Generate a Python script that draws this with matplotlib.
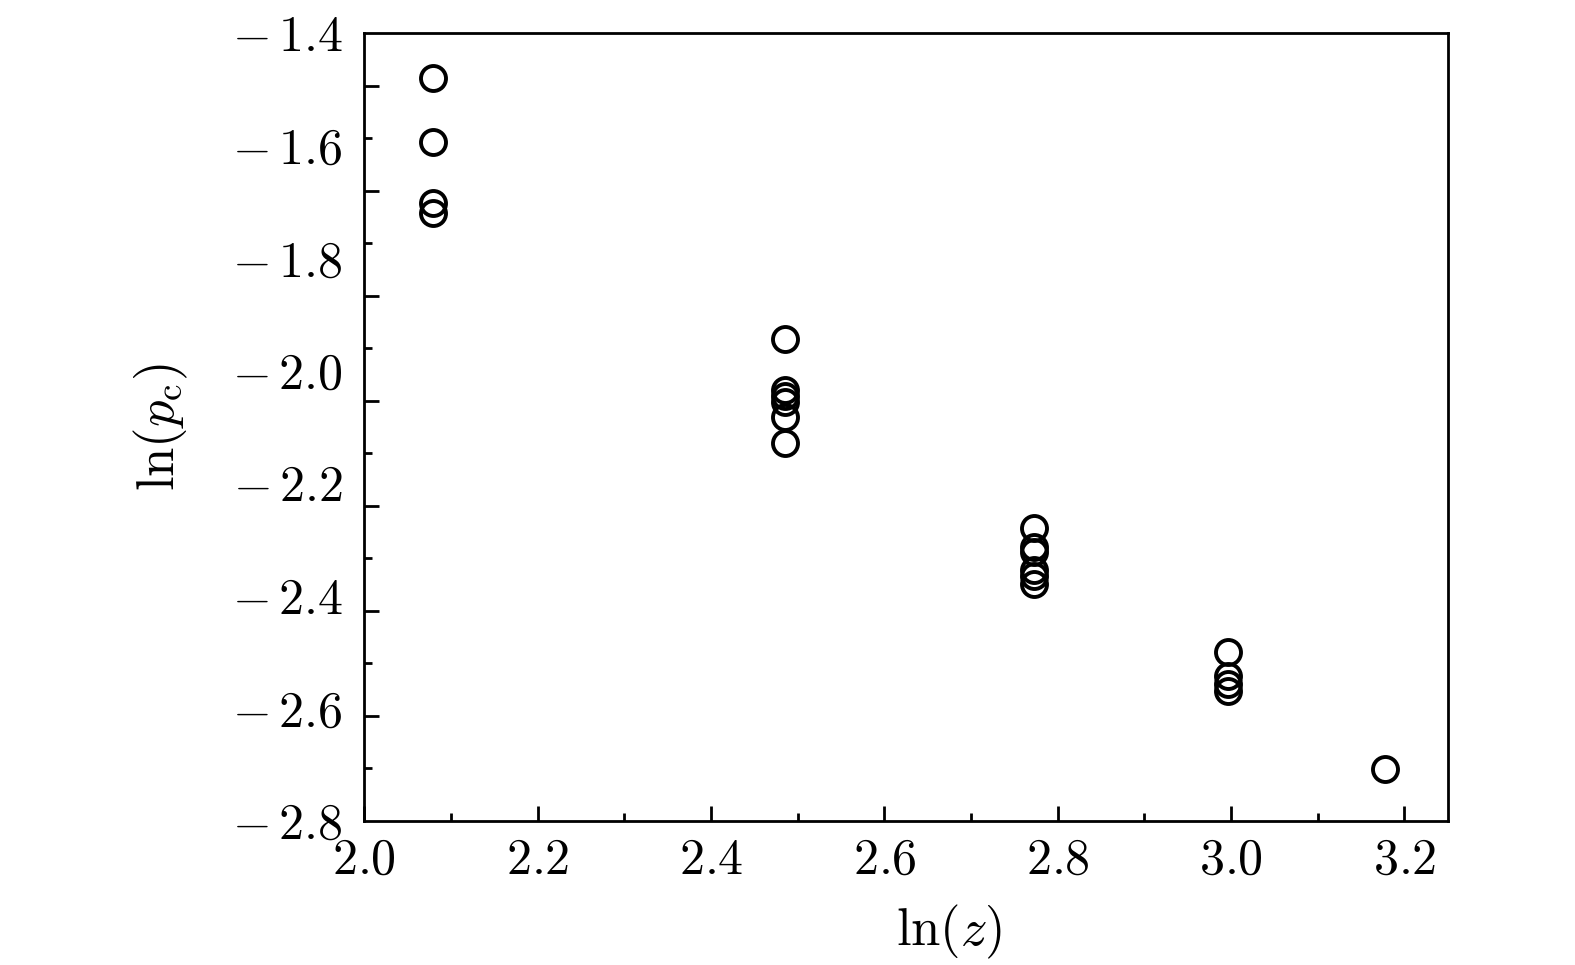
import numpy as np
import matplotlib
matplotlib.use("Agg")
import matplotlib.pyplot as plt

plt.rcParams['mathtext.fontset'] = 'cm'
plt.rcParams['font.family'] = 'serif'
plt.rcParams['font.serif'] = ['cmr10', 'DejaVu Serif']
plt.rcParams['axes.formatter.use_mathtext'] = True

# Data: ln(z) positions and ln(p_c) values per group
x_groups = [2.079, 2.485, 2.773, 2.996, 3.178]
y_groups = [
    [-1.480, -1.593, -1.701, -1.719],
    [-1.944, -2.034, -2.045, -2.055, -2.082, -2.128],
    [-2.280, -2.313, -2.322, -2.354, -2.365, -2.379],
    [-2.500, -2.543, -2.557, -2.569],
    [-2.707],
]

x_ticks = [2.0, 2.2, 2.4, 2.6, 2.8, 3.0, 3.2]
x_ticklabels = ['2.0', '2.2', '2.4', '2.6', '2.8', '3.0', '3.2']
y_ticks = [-1.4, -1.6, -1.8, -2.0, -2.2, -2.4, -2.6, -2.8]
y_ticklabels = ['-1.4', '-1.6', '-1.8', '-2.0', '-2.2', '-2.4', '-2.6', '-2.8']

W, H = 1575, 965
fig = plt.figure(figsize=(W / 100, H / 100), dpi=100)
ax = fig.add_axes([364.4 / W, 1 - 821 / H, 1083.3 / W, 787.7 / H])

for xv, ys in zip(x_groups, y_groups):
    ax.plot([xv] * len(ys), ys, linestyle='none', marker='o', ms=18,
            mfc='none', mec='black', mew=2.8)

ax.set_xlim(2.0, 3.25)
ax.set_ylim(-2.8, -1.4)

for side in ['left', 'right', 'top', 'bottom']:
    ax.spines[side].set_linewidth(2.0)

fs = 36
# x axis
ax.set_xticks(x_ticks)
ax.set_xticklabels([r'$' + t + r'$' for t in x_ticklabels], fontsize=fs)
ax.set_xticks(np.arange(2.1, 3.25, 0.2), minor=True)
ax.tick_params(axis='x', which='major', direction='in', length=11, width=2, pad=12)
ax.tick_params(axis='x', which='minor', direction='in', length=6, width=2)
ax.tick_params(top=False, right=False, which='both')

# y axis ticks (unlabelled) spaced in 15 intervals
step = 1.4 / 15
yk = [-1.4 - k * step for k in range(1, 15)]
ax.set_yticks(yk[0::2])
ax.set_yticks(yk[1::2], minor=True)
ax.set_yticklabels([])
ax.tick_params(axis='y', which='major', direction='in', length=11, width=2)
ax.tick_params(axis='y', which='minor', direction='in', length=6, width=2)

sec = ax.secondary_yaxis('left')
sec.spines['left'].set_visible(False)
sec.set_yticks(y_ticks)
sec.set_yticklabels([r'$' + t.replace('-', '\u2212\\,') + r'$' for t in y_ticklabels], fontsize=fs)
sec.tick_params(axis='y', length=0, pad=16)
sec.tick_params(axis='y', which='minor', length=0)

ax.set_xlabel(r'$\ln(z)$', fontsize=38)
ax.xaxis.set_label_coords(0.54, -0.141)
ax.xaxis.label.set_va('center')
sec.set_ylabel(r'$\ln(p_{\rm c})$', fontsize=38, labelpad=30)

fig.savefig('out.png', dpi=100, facecolor='white')
